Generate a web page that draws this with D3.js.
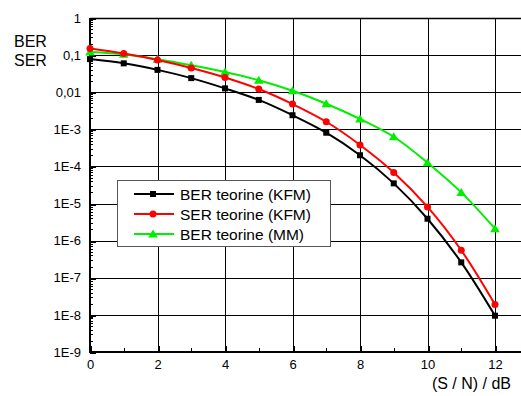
<!DOCTYPE html>
<html><head><meta charset="utf-8">
<script src="https://cdn.jsdelivr.net/npm/d3@7/dist/d3.min.js"></script>
<style>body{margin:0;background:#fff}svg{display:block;font-family:"Liberation Sans",Arial,sans-serif}</style>
</head><body><svg id="c" width="521" height="396"></svg>
<script>
const snr = [0,1,2,3,4,5,6,7,8,9,10,11,12];
const berKFM = [0.078,0.06,0.04,0.024,0.0127,0.0062,0.0024,8.1e-4,2.0e-4,3.5e-5,3.9e-6,2.6e-7,9.5e-9];
const serKFM = [0.15,0.11,0.074,0.045,0.025,0.0122,0.0048,0.0016,3.8e-4,6.9e-5,8.1e-6,5.5e-7,1.9e-8];
const berMM = [0.122,0.105,0.077,0.053,0.035,0.021,0.011,0.0049,0.0019,6.3e-4,1.26e-4,2.0e-5,2.1e-6];
const yTickValues = [1e-9,1e-8,1e-7,1e-6,1e-5,1e-4,1e-3,1e-2,1e-1,1];
const yTickLabels = ["1E-9","1E-8","1E-7","1E-6","1E-5","1E-4","1E-3","0,01","0,1","1"];
const xTickValues = [0,2,4,6,8,10,12];
const xMinorValues = [1,3,5,7,9,11];
const seriesNames = ["BER teorine (KFM)","SER teorine (KFM)","BER teorine (MM)"];
const seriesColors = ["#000000","#ff0000","#00ee00"];
const seriesShapes = ["square","circle","triangle"];

const svg = d3.select("#c");
const L = 90, R = 528.75, T = 18, B = 352;
const x = d3.scaleLinear().domain([0,13]).range([L,R]);
const y = d3.scaleLog().domain([1e-9,1]).range([B,T]);

// grid
const g = svg.append("g").attr("shape-rendering","crispEdges");
g.selectAll(".hg").data(yTickValues).join("line")
  .attr("x1",L).attr("x2",R).attr("y1",d=>Math.round(y(d))+0.5).attr("y2",d=>Math.round(y(d))+0.5)
  .attr("stroke","#000").attr("stroke-width",1);
g.selectAll(".vg").data(xTickValues).join("line")
  .attr("y1",T).attr("y2",B).attr("x1",d=>Math.round(x(d))+0.5).attr("x2",d=>Math.round(x(d))+0.5)
  .attr("stroke","#000").attr("stroke-width",1);

// minor y ticks
const minorY = [];
for (let e=-9;e<0;e++) for (let m=2;m<=9;m++) minorY.push(m*Math.pow(10,e));
g.selectAll(".my").data(minorY).join("line")
  .attr("x1",L).attr("x2",L+3).attr("y1",d=>Math.round(y(d))+0.5).attr("y2",d=>Math.round(y(d))+0.5)
  .attr("stroke","#000");
g.selectAll(".mx").data(xMinorValues).join("line")
  .attr("y1",B).attr("y2",B-4).attr("x1",d=>Math.round(x(d))+0.5).attr("x2",d=>Math.round(x(d))+0.5)
  .attr("stroke","#000");
g.selectAll(".Mx").data(xTickValues).join("line")
  .attr("y1",B).attr("y2",B-6).attr("x1",d=>Math.round(x(d))+0.5).attr("x2",d=>Math.round(x(d))+0.5)
  .attr("stroke","#000").attr("stroke-width",2);
g.selectAll(".My").data(yTickValues).join("line")
  .attr("x1",L).attr("x2",L+6).attr("y1",d=>Math.round(y(d))+0.5).attr("y2",d=>Math.round(y(d))+0.5)
  .attr("stroke","#000").attr("stroke-width",2);

// axes
const yAxis = d3.axisLeft(y).tickValues(yTickValues).tickFormat((d,i)=>yTickLabels[i]).tickSize(0).tickPadding(9);
const ya = svg.append("g").attr("transform",`translate(${L},0)`).call(yAxis);
ya.select(".domain").remove();
ya.selectAll("text").attr("font-size",13).attr("fill","#000").attr("font-family","Liberation Sans, Arial, sans-serif");
const xAxis = d3.axisBottom(x).tickValues(xTickValues).tickFormat(d3.format("d")).tickSize(0).tickPadding(8);
const xa = svg.append("g").attr("transform",`translate(0,${B})`).call(xAxis);
xa.select(".domain").remove();
xa.selectAll("text").attr("font-size",13).attr("fill","#000").attr("font-family","Liberation Sans, Arial, sans-serif");

// frame
svg.append("line").attr("x1",L).attr("x2",R).attr("y1",T+0.5).attr("y2",T+0.5).attr("stroke","#000").attr("stroke-width",1.5);
svg.append("line").attr("x1",L).attr("x2",R).attr("y1",B).attr("y2",B).attr("stroke","#000").attr("stroke-width",2);
svg.append("line").attr("x1",L).attr("x2",L).attr("y1",T).attr("y2",B+1).attr("stroke","#000").attr("stroke-width",2);

// series
const allSeries = [berKFM, serKFM, berMM];
const line = d3.line().x((d,i)=>x(snr[i])).y(d=>y(d)).curve(d3.curveCatmullRom);
function marker(sel, shape, color) {
  if (shape==="square") sel.append("rect").attr("x",-3).attr("y",-3).attr("width",6).attr("height",6).attr("fill",color);
  else if (shape==="circle") sel.append("circle").attr("r",3.5).attr("fill",color);
  else sel.append("path").attr("d","M0,-4.5L4.8,3.5L-4.8,3.5Z").attr("fill",color);
}
[2,1,0].forEach(k=>{
  const s = allSeries[k];
  svg.append("path").attr("d",line(s)).attr("fill","none").attr("stroke",seriesColors[k]).attr("stroke-width",2);
  s.forEach((v,i)=>{
    const mg = svg.append("g").attr("transform",`translate(${x(snr[i])},${y(v)})`);
    marker(mg, seriesShapes[k], seriesColors[k]);
  });
});

// legend
const lg = svg.append("g");
lg.append("rect").attr("x",117.5).attr("y",180.5).attr("width",213).attr("height",66)
  .attr("fill","#fff").attr("stroke","#555").attr("stroke-width",1);
seriesNames.forEach((n,k)=>{
  const yy = 194 + k*20;
  lg.append("line").attr("x1",134).attr("x2",174).attr("y1",yy).attr("y2",yy).attr("stroke",seriesColors[k]).attr("stroke-width",2);
  const mg = lg.append("g").attr("transform",`translate(153,${yy})`);
  marker(mg, seriesShapes[k], seriesColors[k]);
  lg.append("text").attr("x",180).attr("y",yy+5.5).attr("font-size",15.5).attr("fill","#000").text(n);
});

// labels
svg.append("text").attr("x",14).attr("y",47).attr("font-size",16).text("BER");
svg.append("text").attr("x",14).attr("y",66).attr("font-size",16).text("SER");
svg.append("text").attr("x",511).attr("y",389).attr("text-anchor","end").attr("font-size",16).text("(S / N) / dB");
</script></body></html>
